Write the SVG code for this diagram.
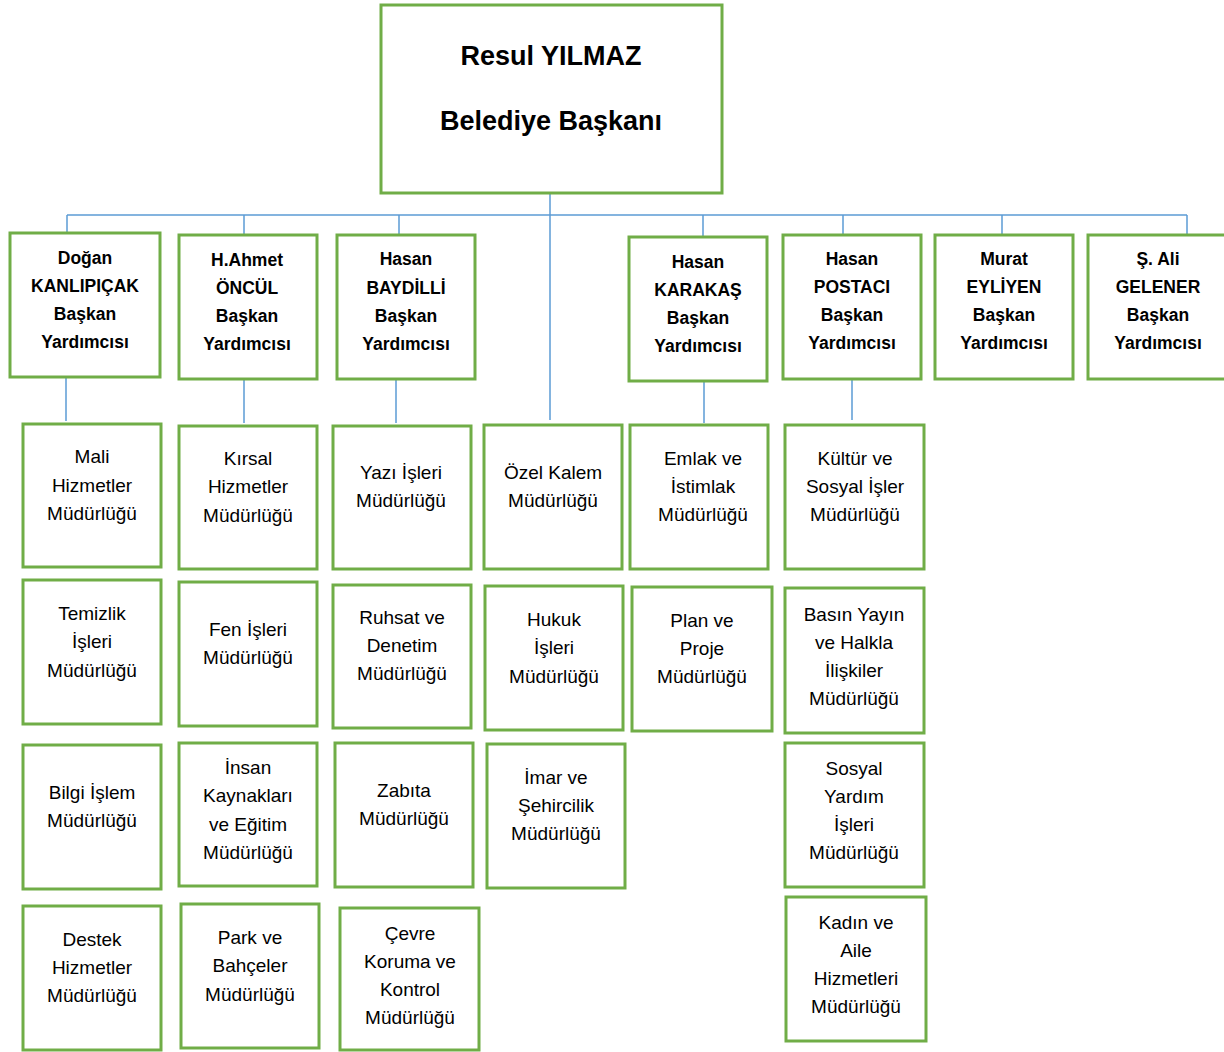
<svg xmlns="http://www.w3.org/2000/svg" width="1224" height="1052" viewBox="0 0 1224 1052">
<style>
.b{fill:#fff;stroke:#70AD47;stroke-width:3}
.c{stroke:#5B9BD5;stroke-width:1.5;fill:none}
text{font-family:"Liberation Sans",Arial,sans-serif;fill:#000;text-anchor:middle}
.t{font-size:27px;font-weight:bold}
.v{font-size:17.5px;font-weight:bold}
.s{font-size:19px}
</style>
<rect width="1224" height="1052" fill="#fff"/>
<g id="connectors">
<line class="c" x1="67" y1="215" x2="1187" y2="215"/>
<line class="c" x1="550" y1="193" x2="550" y2="420"/>
<line class="c" x1="67" y1="215" x2="67" y2="233"/>
<line class="c" x1="244" y1="215" x2="244" y2="235"/>
<line class="c" x1="399" y1="215" x2="399" y2="235"/>
<line class="c" x1="703" y1="215" x2="703" y2="237"/>
<line class="c" x1="843" y1="215" x2="843" y2="235"/>
<line class="c" x1="1002" y1="215" x2="1002" y2="235"/>
<line class="c" x1="1187" y1="215" x2="1187" y2="235"/>
<line class="c" x1="66" y1="377" x2="66" y2="421"/>
<line class="c" x1="244" y1="379" x2="244" y2="423"/>
<line class="c" x1="396" y1="379" x2="396" y2="423"/>
<line class="c" x1="704" y1="381" x2="704" y2="423"/>
<line class="c" x1="852" y1="379" x2="852" y2="420"/>
</g>
<g id="mayor"><rect class="b" x="381" y="5" width="341" height="188"/>
<text class="t" x="551" y="65">Resul YILMAZ</text><text class="t" x="551" y="130">Belediye Başkanı</text></g>

<g id="vp1"><rect class="b" x="10" y="233" width="150" height="144"/>
<text class="v" x="85" y="264">Doğan</text><text class="v" x="85" y="292">KANLIPIÇAK</text><text class="v" x="85" y="320">Başkan</text><text class="v" x="85" y="348">Yardımcısı</text></g>
<g id="vp2"><rect class="b" x="179" y="235" width="138" height="144"/>
<text class="v" x="247" y="266">H.Ahmet</text><text class="v" x="247" y="294">ÖNCÜL</text><text class="v" x="247" y="322">Başkan</text><text class="v" x="247" y="350">Yardımcısı</text></g>
<g id="vp3"><rect class="b" x="337" y="235" width="138" height="144"/>
<text class="v" x="406" y="265">Hasan</text><text class="v" x="406" y="294">BAYDİLLİ</text><text class="v" x="406" y="322">Başkan</text><text class="v" x="406" y="350">Yardımcısı</text></g>
<g id="vp4"><rect class="b" x="629" y="237" width="138" height="144"/>
<text class="v" x="698" y="268">Hasan</text><text class="v" x="698" y="296">KARAKAŞ</text><text class="v" x="698" y="324">Başkan</text><text class="v" x="698" y="352">Yardımcısı</text></g>
<g id="vp5"><rect class="b" x="783" y="235" width="138" height="144"/>
<text class="v" x="852" y="265">Hasan</text><text class="v" x="852" y="293">POSTACI</text><text class="v" x="852" y="321">Başkan</text><text class="v" x="852" y="349">Yardımcısı</text></g>
<g id="vp6"><rect class="b" x="935" y="235" width="138" height="144"/>
<text class="v" x="1004" y="265">Murat</text><text class="v" x="1004" y="293">EYLİYEN</text><text class="v" x="1004" y="321">Başkan</text><text class="v" x="1004" y="349">Yardımcısı</text></g>
<g id="vp7"><rect class="b" x="1088" y="235" width="140" height="144"/>
<text class="v" x="1158" y="265">Ş. Ali</text><text class="v" x="1158" y="293">GELENER</text><text class="v" x="1158" y="321">Başkan</text><text class="v" x="1158" y="349">Yardımcısı</text></g>

<g id="mali"><rect class="b" x="23" y="424" width="138" height="143"/>
<text class="s" x="92" y="463">Mali</text><text class="s" x="92" y="492">Hizmetler</text><text class="s" x="92" y="520">Müdürlüğü</text></g>
<g id="temizlik"><rect class="b" x="23" y="580" width="138" height="144"/>
<text class="s" x="92" y="620">Temizlik</text><text class="s" x="92" y="648">İşleri</text><text class="s" x="92" y="677">Müdürlüğü</text></g>
<g id="bilgi"><rect class="b" x="23" y="745" width="138" height="144"/>
<text class="s" x="92" y="799">Bilgi İşlem</text><text class="s" x="92" y="827">Müdürlüğü</text></g>
<g id="destek"><rect class="b" x="23" y="906" width="138" height="144"/>
<text class="s" x="92" y="946">Destek</text><text class="s" x="92" y="974">Hizmetler</text><text class="s" x="92" y="1002">Müdürlüğü</text></g>

<g id="kirsal"><rect class="b" x="179" y="426" width="138" height="143"/>
<text class="s" x="248" y="465">Kırsal</text><text class="s" x="248" y="493">Hizmetler</text><text class="s" x="248" y="522">Müdürlüğü</text></g>
<g id="fen"><rect class="b" x="179" y="582" width="138" height="144"/>
<text class="s" x="248" y="636">Fen İşleri</text><text class="s" x="248" y="664">Müdürlüğü</text></g>
<g id="insan"><rect class="b" x="179" y="743" width="138" height="143"/>
<text class="s" x="248" y="774">İnsan</text><text class="s" x="248" y="802">Kaynakları</text><text class="s" x="248" y="831">ve Eğitim</text><text class="s" x="248" y="859">Müdürlüğü</text></g>
<g id="park"><rect class="b" x="181" y="904" width="138" height="144"/>
<text class="s" x="250" y="944">Park ve</text><text class="s" x="250" y="972">Bahçeler</text><text class="s" x="250" y="1001">Müdürlüğü</text></g>

<g id="yazi"><rect class="b" x="333" y="426" width="138" height="143"/>
<text class="s" x="401" y="479">Yazı İşleri</text><text class="s" x="401" y="507">Müdürlüğü</text></g>
<g id="ruhsat"><rect class="b" x="333" y="585" width="138" height="143"/>
<text class="s" x="402" y="624">Ruhsat ve</text><text class="s" x="402" y="652">Denetim</text><text class="s" x="402" y="680">Müdürlüğü</text></g>
<g id="zabita"><rect class="b" x="335" y="743" width="138" height="144"/>
<text class="s" x="404" y="797">Zabıta</text><text class="s" x="404" y="825">Müdürlüğü</text></g>
<g id="cevre"><rect class="b" x="340" y="908" width="139" height="142"/>
<text class="s" x="410" y="940">Çevre</text><text class="s" x="410" y="968">Koruma ve</text><text class="s" x="410" y="996">Kontrol</text><text class="s" x="410" y="1024">Müdürlüğü</text></g>

<g id="ozel"><rect class="b" x="484" y="425" width="138" height="144"/>
<text class="s" x="553" y="479">Özel Kalem</text><text class="s" x="553" y="507">Müdürlüğü</text></g>
<g id="hukuk"><rect class="b" x="485" y="586" width="138" height="144"/>
<text class="s" x="554" y="626">Hukuk</text><text class="s" x="554" y="654">İşleri</text><text class="s" x="554" y="683">Müdürlüğü</text></g>
<g id="imar"><rect class="b" x="487" y="744" width="138" height="144"/>
<text class="s" x="556" y="784">İmar ve</text><text class="s" x="556" y="812">Şehircilik</text><text class="s" x="556" y="840">Müdürlüğü</text></g>

<g id="emlak"><rect class="b" x="630" y="425" width="138" height="144"/>
<text class="s" x="703" y="465">Emlak ve</text><text class="s" x="703" y="493">İstimlak</text><text class="s" x="703" y="521">Müdürlüğü</text></g>
<g id="plan"><rect class="b" x="632" y="587" width="140" height="144"/>
<text class="s" x="702" y="627">Plan ve</text><text class="s" x="702" y="655">Proje</text><text class="s" x="702" y="683">Müdürlüğü</text></g>

<g id="kultur"><rect class="b" x="785" y="425" width="139" height="144"/>
<text class="s" x="855" y="465">Kültür ve</text><text class="s" x="855" y="493">Sosyal İşler</text><text class="s" x="855" y="521">Müdürlüğü</text></g>
<g id="basin"><rect class="b" x="785" y="588" width="139" height="145"/>
<text class="s" x="854" y="621">Basın Yayın</text><text class="s" x="854" y="649">ve Halkla</text><text class="s" x="854" y="677">İlişkiler</text><text class="s" x="854" y="705">Müdürlüğü</text></g>
<g id="sosyal"><rect class="b" x="785" y="743" width="139" height="144"/>
<text class="s" x="854" y="775">Sosyal</text><text class="s" x="854" y="803">Yardım</text><text class="s" x="854" y="831">İşleri</text><text class="s" x="854" y="859">Müdürlüğü</text></g>
<g id="kadin"><rect class="b" x="786" y="897" width="140" height="144"/>
<text class="s" x="856" y="929">Kadın ve</text><text class="s" x="856" y="957">Aile</text><text class="s" x="856" y="985">Hizmetleri</text><text class="s" x="856" y="1013">Müdürlüğü</text></g>
</svg>
